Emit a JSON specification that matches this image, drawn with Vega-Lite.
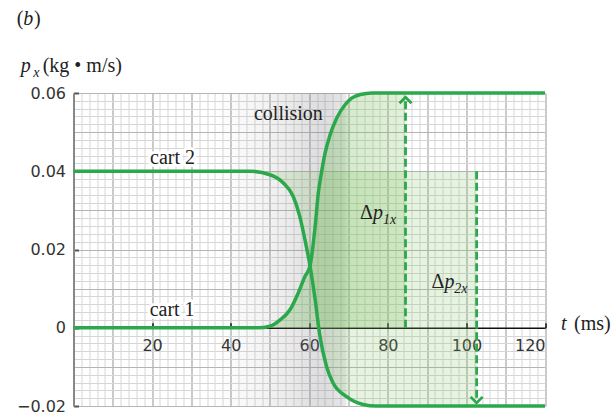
{
  "$schema": "https://vega.github.io/schema/vega-lite/v6.json",
  "width": 471.5,
  "height": 313,
  "autosize": "none",
  "padding": {"left": 73.5, "top": 93, "right": 66, "bottom": 8},
  "background": "white",
  "config": {"view": {"stroke": null}},
  "datasets": {
    "curves": [
      {"series": "cart 1", "t": 0, "p": 0},
      {"series": "cart 1", "t": 47, "p": 0},
      {"series": "cart 1", "t": 50, "p": 0.0004},
      {"series": "cart 1", "t": 52.6, "p": 0.002},
      {"series": "cart 1", "t": 55.1, "p": 0.0046},
      {"series": "cart 1", "t": 57.2, "p": 0.0089},
      {"series": "cart 1", "t": 58.9, "p": 0.0131},
      {"series": "cart 1", "t": 60.2, "p": 0.0158},
      {"series": "cart 1", "t": 61.5, "p": 0.0259},
      {"series": "cart 1", "t": 62.3, "p": 0.0344},
      {"series": "cart 1", "t": 63, "p": 0.039},
      {"series": "cart 1", "t": 64, "p": 0.0445},
      {"series": "cart 1", "t": 65.3, "p": 0.0493},
      {"series": "cart 1", "t": 67, "p": 0.0536},
      {"series": "cart 1", "t": 69.1, "p": 0.057},
      {"series": "cart 1", "t": 70.8, "p": 0.0587},
      {"series": "cart 1", "t": 73, "p": 0.0596},
      {"series": "cart 1", "t": 76, "p": 0.06},
      {"series": "cart 1", "t": 120, "p": 0.06},
      {"series": "cart 2", "t": 0, "p": 0.04},
      {"series": "cart 2", "t": 45, "p": 0.04},
      {"series": "cart 2", "t": 50, "p": 0.0391},
      {"series": "cart 2", "t": 53.4, "p": 0.037},
      {"series": "cart 2", "t": 55.9, "p": 0.0336},
      {"series": "cart 2", "t": 57.6, "p": 0.0284},
      {"series": "cart 2", "t": 58.9, "p": 0.0225},
      {"series": "cart 2", "t": 60.2, "p": 0.0158},
      {"series": "cart 2", "t": 61.5, "p": 0.0072},
      {"series": "cart 2", "t": 62.6, "p": -0.0014},
      {"series": "cart 2", "t": 64.4, "p": -0.0099},
      {"series": "cart 2", "t": 66, "p": -0.014},
      {"series": "cart 2", "t": 69.5, "p": -0.0176},
      {"series": "cart 2", "t": 73.7, "p": -0.0196},
      {"series": "cart 2", "t": 77, "p": -0.02},
      {"series": "cart 2", "t": 120, "p": -0.02}
    ],
    "region1": [
      {"t": 47, "p": 0},
      {"t": 50, "p": 0.0004},
      {"t": 52.6, "p": 0.002},
      {"t": 55.1, "p": 0.0046},
      {"t": 57.2, "p": 0.0089},
      {"t": 58.9, "p": 0.0131},
      {"t": 60.2, "p": 0.0158},
      {"t": 61.5, "p": 0.0259},
      {"t": 62.3, "p": 0.0344},
      {"t": 63, "p": 0.039},
      {"t": 64, "p": 0.0445},
      {"t": 65.3, "p": 0.0493},
      {"t": 67, "p": 0.0536},
      {"t": 69.1, "p": 0.057},
      {"t": 70.8, "p": 0.0587},
      {"t": 73, "p": 0.0596},
      {"t": 76, "p": 0.06},
      {"t": 84.5, "p": 0.06}
    ],
    "region2": [
      {"t": 45, "p": 0.04},
      {"t": 50, "p": 0.0391},
      {"t": 53.4, "p": 0.037},
      {"t": 55.9, "p": 0.0336},
      {"t": 57.6, "p": 0.0284},
      {"t": 58.9, "p": 0.0225},
      {"t": 60.2, "p": 0.0158},
      {"t": 61.5, "p": 0.0072},
      {"t": 62.6, "p": -0.0014},
      {"t": 64.4, "p": -0.0099},
      {"t": 66, "p": -0.014},
      {"t": 69.5, "p": -0.0176},
      {"t": 73.7, "p": -0.0196},
      {"t": 77, "p": -0.02},
      {"t": 102.6, "p": -0.02}
    ],
    "band": [{"start": 36, "end": 70}],
    "arrows": [
      {"name": "dp1", "t": 84.5, "from": 0, "to": 0.0589},
      {"name": "dp2", "t": 102.6, "from": 0.04, "to": -0.0192}
    ],
    "headsUp": [{"t": 84.5, "p": 0.0589}],
    "headsDown": [{"t": 102.6, "p": -0.0192}],
    "labelsCenter": [
      {"label": "cart 2", "t": 25.2, "p": 0.0418},
      {"label": "cart 1", "t": 25.1, "p": 0.0031},
      {"label": "collision", "t": 54.7, "p": 0.0532}
    ],
    "labelsUpright": [
      {"label": "(kg • m/s)", "t": -7.84, "p": 0.06543},
      {"label": "(ms)", "t": 127.4, "p": -0.0005},
      {"label": "(", "t": -14.45, "p": 0.07744},
      {"label": ")", "t": -10.05, "p": 0.07744}
    ],
    "labelsItalic": [
      {"label": "p", "t": -13.44, "p": 0.06543},
      {"label": "t", "t": 124.1, "p": -0.0005},
      {"label": "b", "t": -12.78, "p": 0.07744},
      {"label": "p", "t": 76.2, "p": 0.0278},
      {"label": "p", "t": 94.4, "p": 0.01015}
    ],
    "labelsSub": [
      {"label": "x", "t": -10.23, "p": 0.06415},
      {"label": "1x", "t": 78.8, "p": 0.0266},
      {"label": "2x", "t": 96.9, "p": 0.00887}
    ],
    "labelsDelta": [
      {"label": "Δ", "t": 76.2, "p": 0.0278},
      {"label": "Δ", "t": 94.4, "p": 0.01015}
    ]
  },
  "layer": [
    {
      "data": {"name": "band"},
      "mark": {
        "type": "rect",
        "fill": {
          "gradient": "linear", "x1": 0, "x2": 1, "y1": 0, "y2": 0,
          "stops": [
            {"offset": 0, "color": "rgba(120,120,128,0)"},
            {"offset": 0.353, "color": "rgba(120,120,128,0.08)"},
            {"offset": 0.559, "color": "rgba(120,120,128,0.15)"},
            {"offset": 0.706, "color": "rgba(120,120,128,0.22)"},
            {"offset": 0.824, "color": "rgba(120,120,128,0.25)"},
            {"offset": 0.97, "color": "rgba(120,120,128,0.18)"},
            {"offset": 1, "color": "rgba(120,120,128,0)"}
          ]
        }
      },
      "encoding": {
        "x": {"field": "start", "type": "quantitative", "scale": {"domain": [0, 120], "nice": false, "zero": false}, "axis": null},
        "x2": {"field": "end"}
      }
    },
    {
      "data": {"name": "region1"},
      "mark": {
        "type": "area", "interpolate": "monotone",
        "fill": {
          "gradient": "linear", "x1": 0, "x2": 1, "y1": 0, "y2": 0,
          "stops": [
            {"offset": 0, "color": "rgba(110,185,80,0.28)"},
            {"offset": 0.5, "color": "rgba(110,185,80,0.3)"},
            {"offset": 1, "color": "rgba(120,190,90,0.22)"}
          ]
        }
      },
      "encoding": {
        "x": {"field": "t", "type": "quantitative", "scale": {"domain": [0, 120], "nice": false, "zero": false},
          "axis": {"orient": "bottom", "values": [0,2,4,6,8,10,12,14,16,18,20,22,24,26,28,30,32,34,36,38,40,42,44,46,48,50,52,54,56,58,60,62,64,66,68,70,72,74,76,78,80,82,84,86,88,90,92,94,96,98,100,102,104,106,108,110,112,114,116,118,120],
            "grid": true, "gridColor": "#d6d6d6", "gridWidth": 1, "domain": false, "ticks": false, "labels": false, "title": null}},
        "y": {"field": "p", "type": "quantitative", "scale": {"domain": [-0.02, 0.06], "nice": false, "zero": false},
          "axis": {"orient": "left", "values": [-0.02,-0.018,-0.016,-0.014,-0.012,-0.01,-0.008,-0.006,-0.004,-0.002,0,0.002,0.004,0.006,0.008,0.01,0.012,0.014,0.016,0.018,0.02,0.022,0.024,0.026,0.028,0.03,0.032,0.034,0.036,0.038,0.04,0.042,0.044,0.046,0.048,0.05,0.052,0.054,0.056,0.058,0.06],
            "grid": true, "gridColor": "#d6d6d6", "gridWidth": 1, "domain": false, "ticks": false, "labels": false, "title": null}},
        "y2": {"datum": 0}
      }
    },
    {
      "data": {"name": "region2"},
      "mark": {"type": "area", "interpolate": "monotone", "fill": "rgb(130,195,100)", "fillOpacity": 0.2},
      "encoding": {
        "x": {"field": "t", "type": "quantitative", "scale": {"domain": [0, 120], "nice": false, "zero": false},
          "axis": {"orient": "bottom", "values": [0,10,20,30,40,50,60,70,80,90,100,110,120],
            "grid": true, "gridColor": "#b5b5b5", "gridWidth": 1.2, "domain": false, "ticks": false, "labels": false, "title": null}},
        "y": {"field": "p", "type": "quantitative", "scale": {"domain": [-0.02, 0.06], "nice": false, "zero": false},
          "axis": {"orient": "left", "values": [-0.02,-0.01,0,0.01,0.02,0.03,0.04,0.05,0.06],
            "grid": true, "gridColor": "#b5b5b5", "gridWidth": 1.2, "domain": false, "ticks": false, "labels": false, "title": null}},
        "y2": {"datum": 0.04}
      }
    },
    {
      "data": {"name": "curves"},
      "mark": {"type": "line", "interpolate": "monotone", "stroke": "#2ca84c", "strokeWidth": 3.5},
      "encoding": {
        "x": {"field": "t", "type": "quantitative", "scale": {"domain": [0, 120], "nice": false, "zero": false},
          "axis": {"orient": "bottom", "offset": -78.25, "values": [20,40,60,80,100,120], "grid": false,
            "domainColor": "#111", "domainWidth": 1.5, "tickColor": "#111", "tickWidth": 1.5, "tickSize": -5,
            "labelPadding": 15, "labelFont": "DejaVu Sans", "labelFontSize": 16, "labelColor": "#333", "title": null}},
        "y": {"field": "p", "type": "quantitative", "scale": {"domain": [-0.02, 0.06], "nice": false, "zero": false},
          "axis": {"orient": "left", "values": [-0.02,0,0.02,0.04,0.06], "grid": false,
            "domainColor": "#888", "domainWidth": 2, "tickColor": "#555", "tickWidth": 2, "tickSize": -5,
            "labelPadding": 13, "labelFont": "DejaVu Sans", "labelFontSize": 16, "labelColor": "#333",
            "labelExpr": "datum.value === 0 ? '0' : format(datum.value, '.2f')", "title": null}},
        "detail": {"field": "series"}
      }
    },
    {
      "data": {"name": "arrows"},
      "mark": {"type": "rule", "stroke": "#2ca84c", "strokeWidth": 2.8, "strokeDash": [8, 3.5]},
      "encoding": {
        "x": {"field": "t", "type": "quantitative", "scale": {"domain": [0, 120], "nice": false, "zero": false}, "axis": null},
        "y": {"field": "from", "type": "quantitative", "scale": {"domain": [-0.02, 0.06], "nice": false, "zero": false}, "axis": null},
        "y2": {"field": "to"}
      }
    },
    {
      "data": {"name": "headsUp"},
      "mark": {"type": "point", "shape": "M-1,1L0,0L1,1", "filled": false, "stroke": "#2ca84c", "strokeWidth": 2.8, "size": 144, "opacity": 1},
      "encoding": {
        "x": {"field": "t", "type": "quantitative", "scale": {"domain": [0, 120], "nice": false, "zero": false}, "axis": null},
        "y": {"field": "p", "type": "quantitative", "scale": {"domain": [-0.02, 0.06], "nice": false, "zero": false}, "axis": null}
      }
    },
    {
      "data": {"name": "headsDown"},
      "mark": {"type": "point", "shape": "M-1,-1L0,0L1,-1", "filled": false, "stroke": "#2ca84c", "strokeWidth": 2.8, "size": 144, "opacity": 1},
      "encoding": {
        "x": {"field": "t", "type": "quantitative", "scale": {"domain": [0, 120], "nice": false, "zero": false}, "axis": null},
        "y": {"field": "p", "type": "quantitative", "scale": {"domain": [-0.02, 0.06], "nice": false, "zero": false}, "axis": null}
      }
    },
    {
      "data": {"name": "labelsCenter"},
      "transform": [{"filter": "datum.label !== 'collision'"}],
      "mark": {"type": "text", "font": "Liberation Serif", "fontSize": 20, "align": "center", "baseline": "alphabetic", "stroke": "white", "strokeWidth": 6, "strokeJoin": "round", "fill": "white"},
      "encoding": {
        "x": {"field": "t", "type": "quantitative", "scale": {"domain": [0, 120], "nice": false, "zero": false}, "axis": null},
        "y": {"field": "p", "type": "quantitative", "scale": {"domain": [-0.02, 0.06], "nice": false, "zero": false}, "axis": null},
        "text": {"field": "label"}
      }
    },
    {
      "data": {"name": "labelsCenter"},
      "mark": {"type": "text", "font": "Liberation Serif", "fontSize": 20, "align": "center", "baseline": "alphabetic", "fill": "#222"},
      "encoding": {
        "x": {"field": "t", "type": "quantitative", "scale": {"domain": [0, 120], "nice": false, "zero": false}, "axis": null},
        "y": {"field": "p", "type": "quantitative", "scale": {"domain": [-0.02, 0.06], "nice": false, "zero": false}, "axis": null},
        "text": {"field": "label"}
      }
    },
    {
      "data": {"name": "labelsUpright"},
      "mark": {"type": "text", "font": "Liberation Serif", "fontSize": 20, "align": "left", "baseline": "alphabetic", "fill": "#222"},
      "encoding": {
        "x": {"field": "t", "type": "quantitative", "scale": {"domain": [0, 120], "nice": false, "zero": false}, "axis": null},
        "y": {"field": "p", "type": "quantitative", "scale": {"domain": [-0.02, 0.06], "nice": false, "zero": false}, "axis": null},
        "text": {"field": "label"}
      }
    },
    {
      "data": {"name": "labelsItalic"},
      "mark": {"type": "text", "font": "Liberation Serif", "fontSize": 20, "fontStyle": "italic", "align": "left", "baseline": "alphabetic", "fill": "#222"},
      "encoding": {
        "x": {"field": "t", "type": "quantitative", "scale": {"domain": [0, 120], "nice": false, "zero": false}, "axis": null},
        "y": {"field": "p", "type": "quantitative", "scale": {"domain": [-0.02, 0.06], "nice": false, "zero": false}, "axis": null},
        "text": {"field": "label"}
      }
    },
    {
      "data": {"name": "labelsSub"},
      "mark": {"type": "text", "font": "Liberation Serif", "fontSize": 14, "fontStyle": "italic", "align": "left", "baseline": "alphabetic", "fill": "#222"},
      "encoding": {
        "x": {"field": "t", "type": "quantitative", "scale": {"domain": [0, 120], "nice": false, "zero": false}, "axis": null},
        "y": {"field": "p", "type": "quantitative", "scale": {"domain": [-0.02, 0.06], "nice": false, "zero": false}, "axis": null},
        "text": {"field": "label"}
      }
    },
    {
      "data": {"name": "labelsDelta"},
      "mark": {"type": "text", "font": "Liberation Serif", "fontSize": 20, "align": "right", "baseline": "alphabetic", "fill": "#222"},
      "encoding": {
        "x": {"field": "t", "type": "quantitative", "scale": {"domain": [0, 120], "nice": false, "zero": false}, "axis": null},
        "y": {"field": "p", "type": "quantitative", "scale": {"domain": [-0.02, 0.06], "nice": false, "zero": false}, "axis": null},
        "text": {"field": "label"}
      }
    }
  ],
  "resolve": {"axis": {"x": "independent", "y": "independent"}}
}
